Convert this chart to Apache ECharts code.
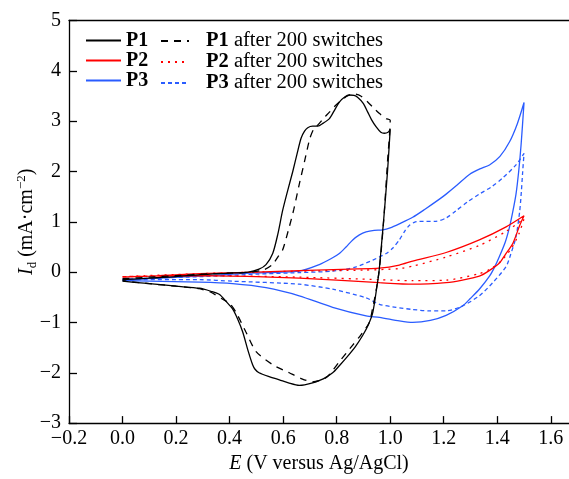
<!DOCTYPE html>
<html lang="en">
<head>
    <meta charset="UTF-8">
    <title>CV curves</title>
    <script src="https://cdn.jsdelivr.net/npm/echarts@6/dist/echarts.min.js"></script>
    <style>
        html, body {margin: 0; padding: 0; background: #fff;}
        #chart {width: 569px; height: 479px;}
    </style>
</head>
<body>
<div id="chart"></div>
<script type="application/javascript">
    // values: [E (V), Id (mA/cm2)], forward scan then back
    var p1 = [[0, -0.15], [0.1, -0.12], [0.2, -0.09], [0.29, -0.05], [0.4, -0.02], [0.47, 0.0], [0.51, 0.06], [0.536, 0.15],
        [0.561, 0.37], [0.58, 0.75], [0.598, 1.22], [0.617, 1.62], [0.636, 2.0], [0.652, 2.35], [0.667, 2.66], [0.68, 2.8],
        [0.692, 2.87], [0.71, 2.9], [0.729, 2.9], [0.75, 2.96], [0.773, 3.05], [0.79, 3.2], [0.81, 3.38], [0.83, 3.48],
        [0.847, 3.52], [0.865, 3.51], [0.879, 3.47], [0.9, 3.35], [0.916, 3.18], [0.93, 3.03], [0.947, 2.89], [0.965, 2.78],
        [0.978, 2.76], [0.992, 2.78], [1.0, 2.84],
        [0.99, 2.0], [0.975, 1.0], [0.965, 0.4], [0.958, 0.0], [0.95, -0.3], [0.935, -0.8], [0.918, -1.05], [0.897, -1.26],
        [0.87, -1.48], [0.835, -1.71], [0.81, -1.86], [0.785, -2.0], [0.75, -2.12], [0.71, -2.2], [0.68, -2.24], [0.66, -2.25],
        [0.62, -2.2], [0.586, -2.14], [0.55, -2.08], [0.51, -2.0], [0.495, -1.93], [0.486, -1.84], [0.47, -1.58], [0.449, -1.19],
        [0.43, -0.93], [0.411, -0.73], [0.39, -0.6], [0.361, -0.44], [0.33, -0.38], [0.287, -0.32], [0.2, -0.28], [0.162, -0.26],
        [0.08, -0.22], [0, -0.18]];
    var p1After = [[0, -0.13], [0.1, -0.1], [0.2, -0.07], [0.3, -0.04], [0.4, -0.02], [0.48, 0.0], [0.53, 0.05], [0.56, 0.15],
        [0.58, 0.3], [0.598, 0.44], [0.623, 0.9], [0.64, 1.25], [0.66, 1.74], [0.68, 2.2], [0.7, 2.66], [0.715, 2.85],
        [0.729, 2.92], [0.75, 3.05], [0.773, 3.18], [0.79, 3.28], [0.81, 3.38], [0.84, 3.5], [0.866, 3.54], [0.89, 3.5],
        [0.916, 3.38], [0.94, 3.25], [0.96, 3.15], [0.985, 3.05], [1.0, 3.02],
        [0.99, 2.2], [0.978, 1.2], [0.966, 0.4], [0.958, 0.0], [0.948, -0.35], [0.935, -0.7], [0.922, -1.0], [0.89, -1.25],
        [0.86, -1.45], [0.81, -1.78], [0.76, -2.1], [0.71, -2.18], [0.67, -2.12], [0.623, -2.0], [0.561, -1.84], [0.499, -1.58],
        [0.461, -1.19], [0.424, -0.8], [0.4, -0.62], [0.374, -0.54], [0.33, -0.4], [0.287, -0.33], [0.2, -0.28], [0.1, -0.23],
        [0, -0.17]];
    var p2 = [[0, -0.1], [0.1, -0.08], [0.287, -0.03], [0.5, 0.0], [0.66, 0.03], [0.85, 0.06], [0.96, 0.08], [1.034, 0.14],
        [1.084, 0.22], [1.209, 0.39], [1.333, 0.64], [1.433, 0.9], [1.5, 1.12],
        [1.484, 0.93], [1.458, 0.57], [1.43, 0.35], [1.408, 0.18], [1.37, 0.03], [1.333, -0.08], [1.27, -0.16], [1.209, -0.21],
        [1.084, -0.24], [0.96, -0.21], [0.8, -0.16], [0.66, -0.12], [0.5, -0.09], [0.287, -0.07], [0.1, -0.08], [0, -0.1]];
    var p2After = [[0, -0.09], [0.287, -0.03], [0.66, 0.02], [0.9, 0.04], [1.034, 0.07], [1.084, 0.12], [1.209, 0.3],
        [1.333, 0.53], [1.43, 0.8], [1.5, 1.06],
        [1.48, 0.75], [1.45, 0.45], [1.41, 0.2], [1.37, 0.05], [1.333, -0.03], [1.209, -0.16], [1.084, -0.17], [0.96, -0.15],
        [0.66, -0.1], [0.287, -0.07], [0, -0.09]];
    var p3 = [[0, -0.16], [0.1, -0.13], [0.287, -0.08], [0.474, -0.02], [0.66, 0.02], [0.735, 0.15], [0.78, 0.27], [0.81, 0.37],
        [0.835, 0.5], [0.86, 0.64], [0.885, 0.74], [0.91, 0.8], [0.94, 0.83], [0.972, 0.84], [1.0, 0.88], [1.034, 0.96],
        [1.084, 1.09], [1.13, 1.25], [1.184, 1.45], [1.209, 1.55], [1.25, 1.73], [1.296, 1.94], [1.335, 2.05], [1.371, 2.13],
        [1.41, 2.3], [1.446, 2.59], [1.475, 2.95], [1.5, 3.37],
        [1.489, 2.53], [1.48, 2.0], [1.47, 1.55], [1.458, 1.2], [1.446, 0.9], [1.43, 0.6], [1.408, 0.31], [1.39, 0.1],
        [1.371, -0.08], [1.333, -0.34], [1.3, -0.52], [1.271, -0.67], [1.209, -0.86], [1.15, -0.96], [1.084, -1.0],
        [1.034, -0.97], [0.96, -0.9], [0.91, -0.87], [0.785, -0.7], [0.66, -0.47], [0.536, -0.31], [0.411, -0.23],
        [0.287, -0.2], [0.1, -0.18], [0, -0.17]];
    var p3After = [[0, -0.14], [0.287, -0.09], [0.5, -0.04], [0.66, -0.01], [0.785, 0.02], [0.87, 0.1], [0.935, 0.24],
        [0.985, 0.37], [1.01, 0.48], [1.034, 0.64], [1.055, 0.82], [1.072, 0.93], [1.09, 0.99], [1.109, 1.01], [1.171, 1.01],
        [1.21, 1.08], [1.246, 1.22], [1.29, 1.4], [1.333, 1.55], [1.38, 1.7], [1.42, 1.87], [1.47, 2.13], [1.5, 2.36],
        [1.495, 2.0], [1.49, 1.6], [1.484, 1.22], [1.47, 0.7], [1.45, 0.35], [1.433, 0.11], [1.383, -0.21], [1.333, -0.47],
        [1.271, -0.67], [1.209, -0.77], [1.146, -0.77], [1.08, -0.74], [1.022, -0.7], [0.96, -0.64], [0.91, -0.51],
        [0.785, -0.34], [0.66, -0.24], [0.411, -0.18], [0.287, -0.15], [0, -0.15]];

    var xTicks = [-0.2, 0, 0.2, 0.4, 0.6, 0.8, 1.0, 1.2, 1.4, 1.6];
    var solidNames = ['P1', 'P2', 'P3'];
    var afterNames = ['P1 after 200 switches', 'P2 after 200 switches', 'P3 after 200 switches'];

    var FONT = 'Liberation Serif, Times New Roman, serif';
    var BLUE = '#2a5cff';

    function minus(v) {
        return String(v).replace('-', '\u2212');
    }

    function cv(name, data, color, type) {
        return {
            name: name,
            type: 'line',
            data: data,
            smooth: 0.25,
            symbol: 'none',
            animation: false,
            lineStyle: {color: color, width: 1.3, type: type},
            itemStyle: {color: color}
        };
    }

    var chart = echarts.init(document.getElementById('chart'));
    var option = {
        backgroundColor: '#fff',
        textStyle: {fontFamily: FONT},
        grid: {left: 69, right: 0, top: 20.5, bottom: 49.5},
        legend: [{
            data: solidNames,
            orient: 'vertical',
            left: 85,
            top: 30.5,
            padding: 0,
            itemGap: 0,
            itemWidth: 35,
            itemHeight: 14,
            itemStyle: {opacity: 0},
            textStyle: {fontFamily: FONT, fontSize: 20, fontWeight: 'bold', color: '#000', lineHeight: 20}
        }, {
            data: afterNames,
            orient: 'vertical',
            left: 160,
            top: 30.5,
            padding: 0,
            itemGap: 0,
            itemWidth: 28,
            itemHeight: 14,
            itemStyle: {opacity: 0},
            formatter: function (name) {
                return '{b|' + name.slice(0, 2) + '}' + name.slice(2);
            },
            textStyle: {
                fontFamily: FONT, fontSize: 20.5, color: '#000', lineHeight: 20,
                rich: {b: {fontFamily: FONT, fontSize: 20.5, fontWeight: 'bold', padding: [0, 0, 0, 12]}}
            }
        }],
        xAxis: [{
            type: 'value',
            min: -0.2,
            max: 1.668,
            name: '{i|E} (V versus Ag/AgCl)',
            nameLocation: 'middle',
            nameGap: 25,
            nameTextStyle: {
                fontFamily: FONT, fontSize: 20, color: '#000',
                rich: {i: {fontFamily: FONT, fontSize: 20, fontStyle: 'italic'}}
            },
            splitLine: {show: false},
            axisLine: {onZero: false, lineStyle: {color: '#000', width: 1.3}},
            axisTick: {inside: true, length: 7, customValues: xTicks, lineStyle: {color: '#000', width: 1.3}},
            axisLabel: {
                customValues: xTicks, margin: 6, fontFamily: FONT, fontSize: 20, color: '#000',
                formatter: function (v) {
                    return minus(v.toFixed(1));
                }
            }
        }, {
            type: 'value',
            position: 'top',
            min: -0.2,
            max: 1.668,
            splitLine: {show: false},
            axisLine: {onZero: false, lineStyle: {color: '#000', width: 1.3}},
            axisTick: {show: false},
            axisLabel: {show: false}
        }],
        yAxis: {
            type: 'value',
            min: -3,
            max: 5,
            interval: 1,
            name: '{i|I}{d|d} (mA\u00b7cm{s|\u22122})',
            nameLocation: 'middle',
            nameGap: 30,
            nameMoveOverlap: false,
            nameRotate: 90,
            nameTextStyle: {
                fontFamily: FONT, fontSize: 20, color: '#000', lineHeight: 24,
                rich: {
                    i: {fontFamily: FONT, fontSize: 20, fontStyle: 'italic', lineHeight: 24},
                    d: {fontFamily: FONT, fontSize: 13, verticalAlign: 'bottom', lineHeight: 16},
                    s: {fontFamily: FONT, fontSize: 13, verticalAlign: 'top', lineHeight: 13}
                }
            },
            splitLine: {show: false},
            axisLine: {show: true, onZero: false, lineStyle: {color: '#000', width: 1.3}},
            axisTick: {show: true, inside: true, length: 8, lineStyle: {color: '#000', width: 1.3}},
            axisLabel: {
                margin: 8, fontFamily: FONT, fontSize: 20, color: '#000',
                formatter: function (v) {
                    return minus(v);
                }
            }
        },
        series: [
            cv('P3', p3, BLUE, 'solid'),
            cv('P3 after 200 switches', p3After, BLUE, [4, 3]),
            cv('P2', p2, '#ff0000', 'solid'),
            cv('P2 after 200 switches', p2After, '#ff0000', [2, 5]),
            cv('P1', p1, '#000', 'solid'),
            cv('P1 after 200 switches', p1After, '#000', [7, 6])
        ]
    };
    chart.setOption(option);
</script>
</body>
</html>
